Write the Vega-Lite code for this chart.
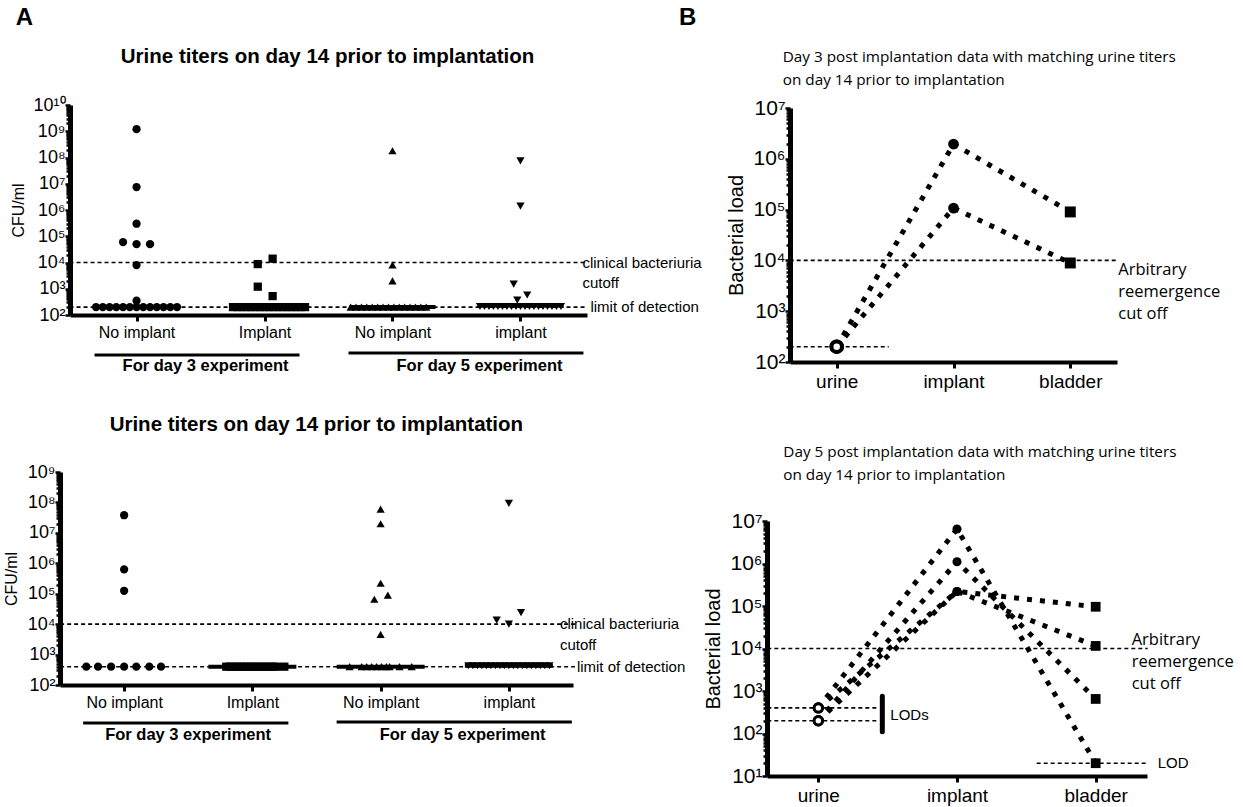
{
"$schema":"https://vega.github.io/schema/vega-lite/v6.json",
"width":1243,"height":807,"autosize":{"type":"none"},"padding":0,"background":"white",
"config":{"view":{"stroke":null},"axis":{"grid":false,"domainColor":"black","tickColor":"black","labelColor":"black","titleColor":"black","labelFont":"Liberation Sans","titleFont":"Liberation Sans","titleFontWeight":"normal","labelOverlap":false,"labelFlush":false},"text":{"color":"black","font":"Liberation Sans"}},
"datasets":{
"tl":[
{"g":"d3no","v":1.2e9,"j":0},{"g":"d3no","v":7.5e6,"j":0},{"g":"d3no","v":3e5,"j":0},{"g":"d3no","v":6e4,"j":-0.3},{"g":"d3no","v":5e4,"j":0},{"g":"d3no","v":5e4,"j":0.3},{"g":"d3no","v":8000,"j":0},{"g":"d3no","v":350,"j":0},
{"g":"d3no","v":200,"j":-0.9},{"g":"d3no","v":200,"j":-0.75},{"g":"d3no","v":200,"j":-0.6},{"g":"d3no","v":200,"j":-0.45},{"g":"d3no","v":200,"j":-0.3},{"g":"d3no","v":200,"j":-0.15},{"g":"d3no","v":200,"j":0},{"g":"d3no","v":200,"j":0.15},{"g":"d3no","v":200,"j":0.3},{"g":"d3no","v":200,"j":0.45},{"g":"d3no","v":200,"j":0.6},{"g":"d3no","v":200,"j":0.75},{"g":"d3no","v":200,"j":0.9},
{"g":"d3im","v":8700,"j":-0.15},{"g":"d3im","v":14000,"j":0.18},{"g":"d3im","v":1200,"j":-0.15},{"g":"d3im","v":525,"j":0.18},
{"g":"d3im","v":200,"j":-0.7},{"g":"d3im","v":200,"j":-0.6},{"g":"d3im","v":200,"j":-0.5},{"g":"d3im","v":200,"j":-0.4},{"g":"d3im","v":200,"j":-0.3},{"g":"d3im","v":200,"j":-0.2},{"g":"d3im","v":200,"j":-0.1},{"g":"d3im","v":200,"j":0},{"g":"d3im","v":200,"j":0.1},{"g":"d3im","v":200,"j":0.2},{"g":"d3im","v":200,"j":0.3},{"g":"d3im","v":200,"j":0.4},{"g":"d3im","v":200,"j":0.5},{"g":"d3im","v":200,"j":0.6},{"g":"d3im","v":200,"j":0.7},{"g":"d3im","v":200,"j":0.8},{"g":"d3im","v":200,"j":0.9},
{"g":"d5no","v":1.8e8,"j":0},{"g":"d5no","v":8000,"j":0},{"g":"d5no","v":2000,"j":0},
{"g":"d5no","v":200,"j":-0.93},{"g":"d5no","v":200,"j":-0.81},{"g":"d5no","v":200,"j":-0.69},{"g":"d5no","v":200,"j":-0.57},{"g":"d5no","v":200,"j":-0.45},{"g":"d5no","v":200,"j":-0.33},{"g":"d5no","v":200,"j":-0.21},{"g":"d5no","v":200,"j":-0.09},{"g":"d5no","v":200,"j":0.03},{"g":"d5no","v":200,"j":0.15},{"g":"d5no","v":200,"j":0.27},{"g":"d5no","v":200,"j":0.39},{"g":"d5no","v":200,"j":0.51},{"g":"d5no","v":200,"j":0.63},{"g":"d5no","v":200,"j":0.75},
{"g":"d5im","v":7.4e7,"j":0},{"g":"d5im","v":1.4e6,"j":0},{"g":"d5im","v":1500,"j":-0.15},{"g":"d5im","v":370,"j":-0.07},{"g":"d5im","v":580,"j":0.15},
{"g":"d5im","v":210,"j":-0.9},{"g":"d5im","v":210,"j":-0.8},{"g":"d5im","v":210,"j":-0.7},{"g":"d5im","v":210,"j":-0.6},{"g":"d5im","v":210,"j":-0.5},{"g":"d5im","v":210,"j":-0.4},{"g":"d5im","v":210,"j":-0.3},{"g":"d5im","v":210,"j":-0.2},{"g":"d5im","v":210,"j":-0.1},{"g":"d5im","v":210,"j":0},{"g":"d5im","v":210,"j":0.1},{"g":"d5im","v":210,"j":0.2},{"g":"d5im","v":210,"j":0.3},{"g":"d5im","v":210,"j":0.4},{"g":"d5im","v":210,"j":0.5},{"g":"d5im","v":210,"j":0.6},{"g":"d5im","v":210,"j":0.7},{"g":"d5im","v":210,"j":0.8},{"g":"d5im","v":210,"j":0.9}
],
"bl":[
{"g":"d3no","v":3.8e7,"j":0},{"g":"d3no","v":6.3e5,"j":0},{"g":"d3no","v":1.25e5,"j":0},
{"g":"d3no","v":400,"j":-0.84},{"g":"d3no","v":400,"j":-0.58},{"g":"d3no","v":400,"j":-0.29},{"g":"d3no","v":400,"j":0},{"g":"d3no","v":400,"j":0.27},{"g":"d3no","v":400,"j":0.56},{"g":"d3no","v":400,"j":0.82},
{"g":"d3im","v":400,"j":-0.58},{"g":"d3im","v":400,"j":-0.5},{"g":"d3im","v":400,"j":-0.42},{"g":"d3im","v":400,"j":-0.34},{"g":"d3im","v":400,"j":-0.26},{"g":"d3im","v":400,"j":-0.18},{"g":"d3im","v":400,"j":-0.1},{"g":"d3im","v":400,"j":-0.02},{"g":"d3im","v":400,"j":0.06},{"g":"d3im","v":400,"j":0.14},{"g":"d3im","v":400,"j":0.22},{"g":"d3im","v":400,"j":0.3},{"g":"d3im","v":400,"j":0.38},{"g":"d3im","v":400,"j":0.46},{"g":"d3im","v":400,"j":0.54},{"g":"d3im","v":400,"j":0.71},
{"g":"d5no","v":6e7,"j":0},{"g":"d5no","v":2e7,"j":0},{"g":"d5no","v":2.2e5,"j":0},{"g":"d5no","v":6.6e4,"j":-0.14},{"g":"d5no","v":9e4,"j":0.16},{"g":"d5no","v":4600,"j":0},
{"g":"d5no","v":400,"j":-0.69},{"g":"d5no","v":400,"j":-0.42},{"g":"d5no","v":400,"j":-0.31},{"g":"d5no","v":400,"j":-0.2},{"g":"d5no","v":400,"j":-0.09},{"g":"d5no","v":400,"j":0.02},{"g":"d5no","v":400,"j":0.13},{"g":"d5no","v":400,"j":0.2},{"g":"d5no","v":400,"j":0.42},{"g":"d5no","v":400,"j":0.69},
{"g":"d5im","v":9.3e7,"j":0},{"g":"d5im","v":13500,"j":-0.27},{"g":"d5im","v":10000,"j":0},{"g":"d5im","v":24000,"j":0.27},
{"g":"d5im","v":430,"j":-0.9},{"g":"d5im","v":430,"j":-0.8},{"g":"d5im","v":430,"j":-0.7},{"g":"d5im","v":430,"j":-0.6},{"g":"d5im","v":430,"j":-0.5},{"g":"d5im","v":430,"j":-0.4},{"g":"d5im","v":430,"j":-0.3},{"g":"d5im","v":430,"j":-0.2},{"g":"d5im","v":430,"j":-0.1},{"g":"d5im","v":430,"j":0},{"g":"d5im","v":430,"j":0.1},{"g":"d5im","v":430,"j":0.2},{"g":"d5im","v":430,"j":0.3},{"g":"d5im","v":430,"j":0.4},{"g":"d5im","v":430,"j":0.5},{"g":"d5im","v":430,"j":0.6},{"g":"d5im","v":430,"j":0.7},{"g":"d5im","v":430,"j":0.8},{"g":"d5im","v":430,"j":0.9}
],
"tlmed":[{"g":"d5no","v":200},{"g":"d5im","v":230}],
"blmed":[{"g":"d3im","v":400},{"g":"d5no","v":400},{"g":"d5im","v":430}],
"tr":[{"mouse":"m1","site":"urine","v":200},{"mouse":"m1","site":"implant","v":1950000},{"mouse":"m1","site":"bladder","v":90000},{"mouse":"m2","site":"urine","v":200},{"mouse":"m2","site":"implant","v":107000},{"mouse":"m2","site":"bladder","v":8900}],
"br":[{"mouse":"m1","site":"urine","v":400},{"mouse":"m1","site":"implant","v":6500000},{"mouse":"m1","site":"bladder","v":20},{"mouse":"m2","site":"urine","v":200},{"mouse":"m2","site":"implant","v":1100000},{"mouse":"m2","site":"bladder","v":650},{"mouse":"m3","site":"urine","v":400},{"mouse":"m3","site":"implant","v":220000},{"mouse":"m3","site":"bladder","v":11500},{"mouse":"m4","site":"urine","v":200},{"mouse":"m4","site":"implant","v":220000},{"mouse":"m4","site":"bladder","v":96000}]
},
"layer":[
 {"data":{"name":"tl"},"mark":{"type":"point","filled":true,"size":68,"opacity":1,"color":"black"},
  "encoding":{
   "x":{"field":"g","type":"nominal","scale":{"type":"point","domain":["d3no","d3im","d5no","d5im"],"range":[70,587],"padding":0.52},
        "axis":{"orient":"bottom","offset":-492,"title":null,"labelExpr":"datum.value == 'd3im' ? 'Implant' : datum.value == 'd5im' ? 'implant' : 'No implant'","labelFontSize":16,"labelAngle":0,"labelPadding":3,"domainWidth":4,"tickSize":6,"tickWidth":3}},
   "xOffset":{"field":"j","type":"quantitative","scale":{"domain":[-1,1],"range":[-45,45]}},
   "y":{"field":"v","type":"quantitative","scale":{"type":"log","domain":[100,1e10],"range":[315,105],"nice":false},
        "axis":{"orient":"left","offset":-70,"title":"CFU/ml","titleFontSize":16,"titlePadding":6,"labelFontSize":18,"values":[1e2,1e3,1e4,1e5,1e6,1e7,1e8,1e9,1e10],"labelPadding":0,"tickSize":5,"tickWidth":2.5,"domainWidth":5,
        "labelExpr":"'10' + ['⁰','¹','²','³','⁴','⁵','⁶','⁷','⁸','⁹','¹⁰'][round(log(datum.value)/LN10)]"}},
   "shape":{"field":"g","type":"nominal","scale":{"domain":["d3no","d3im","d5no","d5im"],"range":["circle","square","triangle-up","triangle-down"]},"legend":null}
  }},
 {"data":{"values":[{"v":10000},{"v":200}]},"mark":{"type":"rule","color":"black","strokeDash":[4,3],"strokeWidth":1.6,"xOffset":-67,"x2Offset":66},"encoding":{"x":{"datum":"d3no","type":"nominal","scale":{"type":"point","domain":["d3no","d3im","d5no","d5im"],"range":[70,587],"padding":0.52},"axis":null},"x2":{"datum":"d5im"},"y":{"field":"v","type":"quantitative","scale":{"type":"log","domain":[100,1e10],"range":[315,105],"nice":false},
   "axis":{"orient":"left","offset":-70,"title":null,"labels":false,"domain":false,"tickSize":4,"tickWidth":2.5,"values":[2e2,3e2,4e2,5e2,6e2,7e2,8e2,9e2,2e3,3e3,4e3,5e3,6e3,7e3,8e3,9e3,2e4,3e4,4e4,5e4,6e4,7e4,8e4,9e4,2e5,3e5,4e5,5e5,6e5,7e5,8e5,9e5,2e6,3e6,4e6,5e6,6e6,7e6,8e6,9e6,2e7,3e7,4e7,5e7,6e7,7e7,8e7,9e7,2e8,3e8,4e8,5e8,6e8,7e8,8e8,9e8,2e9,3e9,4e9,5e9,6e9,7e9,8e9,9e9]}}}},
 {"data":{"name":"tlmed"},"mark":{"type":"rule","color":"black","strokeWidth":4,"xOffset":-43,"x2Offset":43},"encoding":{"x":{"field":"g","type":"nominal","scale":{"type":"point","domain":["d3no","d3im","d5no","d5im"],"range":[70,587],"padding":0.52},"axis":null},"x2":{"field":"g"},"y":{"field":"v","type":"quantitative","scale":{"type":"log","domain":[100,1e10],"range":[315,105],"nice":false},"axis":null}}},
 {"data":{"values":[{"label":"A","x":"d3no","y":1e10}]},"mark":{"type":"text","fontSize":24,"fontWeight":"bold","dx":-112,"dy":-87},"encoding":{"x":{"field":"x","type":"nominal","scale":{"type":"point","domain":["d3no","d3im","d5no","d5im"],"range":[70,587],"padding":0.52},"axis":null},"y":{"field":"y","type":"quantitative","scale":{"type":"log","domain":[100,1e10],"range":[315,105],"nice":false},"axis":null},"text":{"field":"label"}}},
 {"data":{"values":[{"label":"Urine titers on day 14 prior to implantation","x":"d3im","y":1e10}]},"mark":{"type":"text","fontSize":20.5,"fontWeight":"bold","dx":63,"dy":-48},"encoding":{"x":{"field":"x","type":"nominal","scale":{"type":"point","domain":["d3no","d3im","d5no","d5im"],"range":[70,587],"padding":0.52},"axis":null},"y":{"field":"y","type":"quantitative","scale":{"type":"log","domain":[100,1e10],"range":[315,105],"nice":false},"axis":null},"text":{"field":"label"}}},
 {"data":{"values":[{"label":"clinical bacteriuria\ncutoff","x":"d5im","y":10000}]},"mark":{"type":"text","fontSize":15,"align":"left","baseline":"middle","lineBreak":"\n","lineHeight":20,"dx":62},"encoding":{"x":{"field":"x","type":"nominal","scale":{"type":"point","domain":["d3no","d3im","d5no","d5im"],"range":[70,587],"padding":0.52},"axis":null},"y":{"field":"y","type":"quantitative","scale":{"type":"log","domain":[100,1e10],"range":[315,105],"nice":false},"axis":null},"text":{"field":"label"}}},
 {"data":{"values":[{"label":"limit of detection","x":"d5im","y":200}]},"mark":{"type":"text","fontSize":15,"align":"left","baseline":"middle","dx":70},"encoding":{"x":{"field":"x","type":"nominal","scale":{"type":"point","domain":["d3no","d3im","d5no","d5im"],"range":[70,587],"padding":0.52},"axis":null},"y":{"field":"y","type":"quantitative","scale":{"type":"log","domain":[100,1e10],"range":[315,105],"nice":false},"axis":null},"text":{"field":"label"}}},
 {"data":{"values":[{"x":"d3no","x2":"d3im","y":100}]},"mark":{"type":"rule","color":"black","strokeWidth":3,"xOffset":-42,"x2Offset":35,"yOffset":40},"encoding":{"x":{"field":"x","type":"nominal","scale":{"type":"point","domain":["d3no","d3im","d5no","d5im"],"range":[70,587],"padding":0.52},"axis":null},"x2":{"field":"x2"},"y":{"field":"y","type":"quantitative","scale":{"type":"log","domain":[100,1e10],"range":[315,105],"nice":false},"axis":null}}},
 {"data":{"values":[{"x":"d5no","x2":"d5im","y":100}]},"mark":{"type":"rule","color":"black","strokeWidth":3,"xOffset":-44,"x2Offset":63,"yOffset":38},"encoding":{"x":{"field":"x","type":"nominal","scale":{"type":"point","domain":["d3no","d3im","d5no","d5im"],"range":[70,587],"padding":0.52},"axis":null},"x2":{"field":"x2"},"y":{"field":"y","type":"quantitative","scale":{"type":"log","domain":[100,1e10],"range":[315,105],"nice":false},"axis":null}}},
 {"data":{"values":[{"label":"For day 3 experiment","x":"d3no","y":100}]},"mark":{"type":"text","fontSize":16.5,"fontWeight":"bold","dx":69,"dy":51},"encoding":{"x":{"field":"x","type":"nominal","scale":{"type":"point","domain":["d3no","d3im","d5no","d5im"],"range":[70,587],"padding":0.52},"axis":null},"y":{"field":"y","type":"quantitative","scale":{"type":"log","domain":[100,1e10],"range":[315,105],"nice":false},"axis":null},"text":{"field":"label"}}},
 {"data":{"values":[{"label":"For day 5 experiment","x":"d5no","y":100}]},"mark":{"type":"text","fontSize":16.5,"fontWeight":"bold","dx":87,"dy":51},"encoding":{"x":{"field":"x","type":"nominal","scale":{"type":"point","domain":["d3no","d3im","d5no","d5im"],"range":[70,587],"padding":0.52},"axis":null},"y":{"field":"y","type":"quantitative","scale":{"type":"log","domain":[100,1e10],"range":[315,105],"nice":false},"axis":null},"text":{"field":"label"}}},

 {"data":{"name":"bl"},"mark":{"type":"point","filled":true,"size":68,"opacity":1,"color":"black"},
  "encoding":{
   "x":{"field":"g","type":"nominal","scale":{"type":"point","domain":["d3no","d3im","d5no","d5im"],"range":[60,573],"padding":0.5},
        "axis":{"orient":"bottom","offset":-122,"title":null,"labelExpr":"datum.value == 'd3im' ? 'Implant' : datum.value == 'd5im' ? 'implant' : 'No implant'","labelFontSize":16,"labelAngle":0,"labelPadding":3,"domainWidth":4,"tickSize":6,"tickWidth":3}},
   "xOffset":{"field":"j","type":"quantitative","scale":{"domain":[-1,1],"range":[-45,45]}},
   "y":{"field":"v","type":"quantitative","scale":{"type":"log","domain":[100,1e9],"range":[685,472],"nice":false},
        "axis":{"orient":"left","offset":-60,"title":"CFU/ml","titleFontSize":16,"titlePadding":8,"labelFontSize":18,"values":[1e2,1e3,1e4,1e5,1e6,1e7,1e8,1e9],"labelPadding":0,"tickSize":5,"tickWidth":2.5,"domainWidth":5,
        "labelExpr":"'10' + ['⁰','¹','²','³','⁴','⁵','⁶','⁷','⁸','⁹','¹⁰'][round(log(datum.value)/LN10)]"}},
   "shape":{"field":"g","type":"nominal","scale":{"domain":["d3no","d3im","d5no","d5im"],"range":["circle","square","triangle-up","triangle-down"]},"legend":null}
  }},
 {"data":{"values":[{"v":10000},{"v":400}]},"mark":{"type":"rule","color":"black","strokeDash":[4,3],"strokeWidth":1.6,"xOffset":-64,"x2Offset":66},"encoding":{"x":{"datum":"d3no","type":"nominal","scale":{"type":"point","domain":["d3no","d3im","d5no","d5im"],"range":[60,573],"padding":0.5},"axis":null},"x2":{"datum":"d5im"},"y":{"field":"v","type":"quantitative","scale":{"type":"log","domain":[100,1e9],"range":[685,472],"nice":false},
   "axis":{"orient":"left","offset":-60,"title":null,"labels":false,"domain":false,"tickSize":4,"tickWidth":2.5,"values":[2e2,3e2,4e2,5e2,6e2,7e2,8e2,9e2,2e3,3e3,4e3,5e3,6e3,7e3,8e3,9e3,2e4,3e4,4e4,5e4,6e4,7e4,8e4,9e4,2e5,3e5,4e5,5e5,6e5,7e5,8e5,9e5,2e6,3e6,4e6,5e6,6e6,7e6,8e6,9e6,2e7,3e7,4e7,5e7,6e7,7e7,8e7,9e7,2e8,3e8,4e8,5e8,6e8,7e8,8e8,9e8]}}}},
 {"data":{"name":"blmed"},"mark":{"type":"rule","color":"black","strokeWidth":4,"xOffset":-44,"x2Offset":44},"encoding":{"x":{"field":"g","type":"nominal","scale":{"type":"point","domain":["d3no","d3im","d5no","d5im"],"range":[60,573],"padding":0.5},"axis":null},"x2":{"field":"g"},"y":{"field":"v","type":"quantitative","scale":{"type":"log","domain":[100,1e9],"range":[685,472],"nice":false},"axis":null}}},
 {"data":{"values":[{"label":"Urine titers on day 14 prior to implantation","x":"d3im","y":1e9}]},"mark":{"type":"text","fontSize":20.5,"fontWeight":"bold","dx":64,"dy":-47},"encoding":{"x":{"field":"x","type":"nominal","scale":{"type":"point","domain":["d3no","d3im","d5no","d5im"],"range":[60,573],"padding":0.5},"axis":null},"y":{"field":"y","type":"quantitative","scale":{"type":"log","domain":[100,1e9],"range":[685,472],"nice":false},"axis":null},"text":{"field":"label"}}},
 {"data":{"values":[{"label":"clinical bacteriuria\ncutoff","x":"d5im","y":10000}]},"mark":{"type":"text","fontSize":15,"align":"left","baseline":"middle","lineBreak":"\n","lineHeight":21,"dx":51},"encoding":{"x":{"field":"x","type":"nominal","scale":{"type":"point","domain":["d3no","d3im","d5no","d5im"],"range":[60,573],"padding":0.5},"axis":null},"y":{"field":"y","type":"quantitative","scale":{"type":"log","domain":[100,1e9],"range":[685,472],"nice":false},"axis":null},"text":{"field":"label"}}},
 {"data":{"values":[{"label":"limit of detection","x":"d5im","y":400}]},"mark":{"type":"text","fontSize":15,"align":"left","baseline":"middle","dx":68},"encoding":{"x":{"field":"x","type":"nominal","scale":{"type":"point","domain":["d3no","d3im","d5no","d5im"],"range":[60,573],"padding":0.5},"axis":null},"y":{"field":"y","type":"quantitative","scale":{"type":"log","domain":[100,1e9],"range":[685,472],"nice":false},"axis":null},"text":{"field":"label"}}},
 {"data":{"values":[{"x":"d3no","x2":"d3im","y":100}]},"mark":{"type":"rule","color":"black","strokeWidth":3,"xOffset":-41,"x2Offset":36,"yOffset":38},"encoding":{"x":{"field":"x","type":"nominal","scale":{"type":"point","domain":["d3no","d3im","d5no","d5im"],"range":[60,573],"padding":0.5},"axis":null},"x2":{"field":"x2"},"y":{"field":"y","type":"quantitative","scale":{"type":"log","domain":[100,1e9],"range":[685,472],"nice":false},"axis":null}}},
 {"data":{"values":[{"x":"d5no","x2":"d5im","y":100}]},"mark":{"type":"rule","color":"black","strokeWidth":3,"xOffset":-44,"x2Offset":63,"yOffset":37},"encoding":{"x":{"field":"x","type":"nominal","scale":{"type":"point","domain":["d3no","d3im","d5no","d5im"],"range":[60,573],"padding":0.5},"axis":null},"x2":{"field":"x2"},"y":{"field":"y","type":"quantitative","scale":{"type":"log","domain":[100,1e9],"range":[685,472],"nice":false},"axis":null}}},
 {"data":{"values":[{"label":"For day 3 experiment","x":"d3no","y":100}]},"mark":{"type":"text","fontSize":16.5,"fontWeight":"bold","dx":64,"dy":50},"encoding":{"x":{"field":"x","type":"nominal","scale":{"type":"point","domain":["d3no","d3im","d5no","d5im"],"range":[60,573],"padding":0.5},"axis":null},"y":{"field":"y","type":"quantitative","scale":{"type":"log","domain":[100,1e9],"range":[685,472],"nice":false},"axis":null},"text":{"field":"label"}}},
 {"data":{"values":[{"label":"For day 5 experiment","x":"d5no","y":100}]},"mark":{"type":"text","fontSize":16.5,"fontWeight":"bold","dx":82,"dy":50},"encoding":{"x":{"field":"x","type":"nominal","scale":{"type":"point","domain":["d3no","d3im","d5no","d5im"],"range":[60,573],"padding":0.5},"axis":null},"y":{"field":"y","type":"quantitative","scale":{"type":"log","domain":[100,1e9],"range":[685,472],"nice":false},"axis":null},"text":{"field":"label"}}},

 {"data":{"name":"tr"},"mark":{"type":"line","color":"black","strokeWidth":5,"strokeDash":[5,8]},
  "encoding":{
   "x":{"field":"site","type":"nominal","scale":{"type":"point","domain":["urine","implant","bladder"],"range":[790,1117],"padding":0.4},
        "axis":{"orient":"bottom","offset":-445,"title":null,"labelFontSize":19,"labelAngle":0,"labelPadding":4,"domainWidth":4,"tickSize":6,"tickWidth":3}},
   "y":{"field":"v","type":"quantitative","scale":{"type":"log","domain":[100,1e7],"range":[362,108],"nice":false},
        "axis":{"orient":"left","offset":-790,"title":"Bacterial load","titleFontSize":20,"titlePadding":6,"labelFontSize":21,"values":[1e2,1e3,1e4,1e5,1e6,1e7],"labelPadding":0,"tickSize":5,"tickWidth":2.5,"domainWidth":5,
        "labelExpr":"'10' + ['⁰','¹','²','³','⁴','⁵','⁶','⁷','⁸','⁹','¹⁰'][round(log(datum.value)/LN10)]"}},
   "detail":{"field":"mouse","type":"nominal"}
  }},
 {"data":{"values":[{"v":10000,"x":"urine","x2":"bladder"}]},"mark":{"type":"rule","color":"black","strokeDash":[4,3],"strokeWidth":1.6,"xOffset":-47,"x2Offset":47},"encoding":{"x":{"field":"x","type":"nominal","scale":{"type":"point","domain":["urine","implant","bladder"],"range":[790,1117],"padding":0.4},"axis":null},"x2":{"field":"x2"},"y":{"field":"v","type":"quantitative","scale":{"type":"log","domain":[100,1e7],"range":[362,108],"nice":false},
   "axis":{"orient":"left","offset":-790,"title":null,"labels":false,"domain":false,"tickSize":4,"tickWidth":2.5,"values":[2e2,3e2,4e2,5e2,6e2,7e2,8e2,9e2,2e3,3e3,4e3,5e3,6e3,7e3,8e3,9e3,2e4,3e4,4e4,5e4,6e4,7e4,8e4,9e4,2e5,3e5,4e5,5e5,6e5,7e5,8e5,9e5,2e6,3e6,4e6,5e6,6e6,7e6,8e6,9e6]}}}},
 {"data":{"values":[{"v":200,"x":"urine"}]},"mark":{"type":"rule","color":"black","strokeDash":[4,3],"strokeWidth":1.6,"xOffset":-47,"x2Offset":52},"encoding":{"x":{"field":"x","type":"nominal","scale":{"type":"point","domain":["urine","implant","bladder"],"range":[790,1117],"padding":0.4},"axis":null},"x2":{"field":"x"},"y":{"field":"v","type":"quantitative","scale":{"type":"log","domain":[100,1e7],"range":[362,108],"nice":false},"axis":null}}},
 {"data":{"name":"tr"},"mark":{"type":"point","filled":true,"color":"black","opacity":1,"strokeWidth":4},"encoding":{"x":{"field":"site","type":"nominal","scale":{"type":"point","domain":["urine","implant","bladder"],"range":[790,1117],"padding":0.4},"axis":null},"y":{"field":"v","type":"quantitative","scale":{"type":"log","domain":[100,1e7],"range":[362,108],"nice":false},"axis":null},
   "shape":{"field":"site","type":"nominal","scale":{"domain":["urine","implant","bladder"],"range":["circle","circle","square"]},"legend":null},
   "fill":{"field":"site","type":"nominal","scale":{"domain":["urine","implant","bladder"],"range":["white","black","black"]},"legend":null},
   "stroke":{"field":"site","type":"nominal","scale":{"domain":["urine","implant","bladder"],"range":["black","transparent","transparent"]},"legend":null},
   "size":{"field":"site","type":"nominal","scale":{"domain":["urine","implant","bladder"],"range":[110,120,105]},"legend":null}}},
 {"data":{"values":[{"label":"B","x":"urine","y":1e7}]},"mark":{"type":"text","fontSize":24,"fontWeight":"bold","dx":-149,"dy":-90},"encoding":{"x":{"field":"x","type":"nominal","scale":{"type":"point","domain":["urine","implant","bladder"],"range":[790,1117],"padding":0.4},"axis":null},"y":{"field":"y","type":"quantitative","scale":{"type":"log","domain":[100,1e7],"range":[362,108],"nice":false},"axis":null},"text":{"field":"label"}}},
 {"data":{"values":[{"label":"Day 3 post implantation data with matching urine titers\non day 14 prior to implantation","x":"urine","y":1e7}]},"mark":{"type":"text","font":"Open Sans","fontSize":15.3,"align":"left","baseline":"middle","lineBreak":"\n","lineHeight":23,"dx":-54,"dy":-51},"encoding":{"x":{"field":"x","type":"nominal","scale":{"type":"point","domain":["urine","implant","bladder"],"range":[790,1117],"padding":0.4},"axis":null},"y":{"field":"y","type":"quantitative","scale":{"type":"log","domain":[100,1e7],"range":[362,108],"nice":false},"axis":null},"text":{"field":"label"}}},
 {"data":{"values":[{"label":"Arbitrary\nreemergence\n cut off","x":"bladder","y":10000}]},"mark":{"type":"text","font":"Open Sans","fontSize":16.5,"align":"left","baseline":"middle","lineBreak":"\n","lineHeight":22,"dx":48,"dy":10},"encoding":{"x":{"field":"x","type":"nominal","scale":{"type":"point","domain":["urine","implant","bladder"],"range":[790,1117],"padding":0.4},"axis":null},"y":{"field":"y","type":"quantitative","scale":{"type":"log","domain":[100,1e7],"range":[362,108],"nice":false},"axis":null},"text":{"field":"label"}}},

 {"data":{"name":"br"},"mark":{"type":"line","color":"black","strokeWidth":5,"strokeDash":[5,8]},
  "encoding":{
   "x":{"field":"site","type":"nominal","scale":{"type":"point","domain":["urine","implant","bladder"],"range":[767,1147],"padding":0.37},
        "axis":{"orient":"bottom","offset":-31,"title":null,"labelFontSize":19,"labelAngle":0,"labelPadding":4,"domainWidth":4,"tickSize":6,"tickWidth":3}},
   "y":{"field":"v","type":"quantitative","scale":{"type":"log","domain":[10,1e7],"range":[776,521],"nice":false},
        "axis":{"orient":"left","offset":-767,"title":"Bacterial load","titleFontSize":20,"titlePadding":6,"labelFontSize":21,"values":[1e1,1e2,1e3,1e4,1e5,1e6,1e7],"labelPadding":0,"tickSize":5,"tickWidth":2.5,"domainWidth":5,
        "labelExpr":"'10' + ['⁰','¹','²','³','⁴','⁵','⁶','⁷','⁸','⁹','¹⁰'][round(log(datum.value)/LN10)]"}},
   "detail":{"field":"mouse","type":"nominal"}
  }},
 {"data":{"values":[{"v":10000,"x":"urine","x2":"bladder"}]},"mark":{"type":"rule","color":"black","strokeDash":[4,3],"strokeWidth":1.6,"xOffset":-51,"x2Offset":52},"encoding":{"x":{"field":"x","type":"nominal","scale":{"type":"point","domain":["urine","implant","bladder"],"range":[767,1147],"padding":0.37},"axis":null},"x2":{"field":"x2"},"y":{"field":"v","type":"quantitative","scale":{"type":"log","domain":[10,1e7],"range":[776,521],"nice":false},
   "axis":{"orient":"left","offset":-767,"title":null,"labels":false,"domain":false,"tickSize":4,"tickWidth":2.5,"values":[2e1,3e1,4e1,5e1,6e1,7e1,8e1,9e1,2e2,3e2,4e2,5e2,6e2,7e2,8e2,9e2,2e3,3e3,4e3,5e3,6e3,7e3,8e3,9e3,2e4,3e4,4e4,5e4,6e4,7e4,8e4,9e4,2e5,3e5,4e5,5e5,6e5,7e5,8e5,9e5,2e6,3e6,4e6,5e6,6e6,7e6,8e6,9e6]}}}},
 {"data":{"values":[{"v":400,"x":"urine"},{"v":200,"x":"urine"}]},"mark":{"type":"rule","color":"black","strokeDash":[4,3],"strokeWidth":1.6,"xOffset":-51,"x2Offset":59},"encoding":{"x":{"field":"x","type":"nominal","scale":{"type":"point","domain":["urine","implant","bladder"],"range":[767,1147],"padding":0.37},"axis":null},"x2":{"field":"x"},"y":{"field":"v","type":"quantitative","scale":{"type":"log","domain":[10,1e7],"range":[776,521],"nice":false},"axis":null}}},
 {"data":{"values":[{"v":20,"x":"bladder"}]},"mark":{"type":"rule","color":"black","strokeDash":[4,3],"strokeWidth":1.6,"xOffset":-59,"x2Offset":51},"encoding":{"x":{"field":"x","type":"nominal","scale":{"type":"point","domain":["urine","implant","bladder"],"range":[767,1147],"padding":0.37},"axis":null},"x2":{"field":"x"},"y":{"field":"v","type":"quantitative","scale":{"type":"log","domain":[10,1e7],"range":[776,521],"nice":false},"axis":null}}},
 {"data":{"values":[{"lo":110,"hi":750,"x":"urine"}]},"mark":{"type":"rule","color":"black","strokeWidth":5,"strokeCap":"round","xOffset":64},"encoding":{"x":{"field":"x","type":"nominal","scale":{"type":"point","domain":["urine","implant","bladder"],"range":[767,1147],"padding":0.37},"axis":null},"y":{"field":"lo","type":"quantitative","scale":{"type":"log","domain":[10,1e7],"range":[776,521],"nice":false},"axis":null},"y2":{"field":"hi"}}},
 {"data":{"name":"br"},"mark":{"type":"point","filled":true,"color":"black","opacity":1,"strokeWidth":3},"encoding":{"x":{"field":"site","type":"nominal","scale":{"type":"point","domain":["urine","implant","bladder"],"range":[767,1147],"padding":0.37},"axis":null},"y":{"field":"v","type":"quantitative","scale":{"type":"log","domain":[10,1e7],"range":[776,521],"nice":false},"axis":null},
   "shape":{"field":"site","type":"nominal","scale":{"domain":["urine","implant","bladder"],"range":["circle","circle","square"]},"legend":null},
   "fill":{"field":"site","type":"nominal","scale":{"domain":["urine","implant","bladder"],"range":["white","black","black"]},"legend":null},
   "stroke":{"field":"site","type":"nominal","scale":{"domain":["urine","implant","bladder"],"range":["black","transparent","transparent"]},"legend":null},
   "size":{"field":"site","type":"nominal","scale":{"domain":["urine","implant","bladder"],"range":[70,95,100]},"legend":null}}},
 {"data":{"values":[{"label":"Day 5 post implantation data with matching urine titers\non day 14 prior to implantation","x":"urine","y":1e7}]},"mark":{"type":"text","font":"Open Sans","fontSize":15.3,"align":"left","baseline":"middle","lineBreak":"\n","lineHeight":23,"dx":-35,"dy":-69},"encoding":{"x":{"field":"x","type":"nominal","scale":{"type":"point","domain":["urine","implant","bladder"],"range":[767,1147],"padding":0.37},"axis":null},"y":{"field":"y","type":"quantitative","scale":{"type":"log","domain":[10,1e7],"range":[776,521],"nice":false},"axis":null},"text":{"field":"label"}}},
 {"data":{"values":[{"label":"Arbitrary\nreemergence\ncut off","x":"bladder","y":10000}]},"mark":{"type":"text","font":"Open Sans","fontSize":16.5,"align":"left","baseline":"middle","lineBreak":"\n","lineHeight":22,"dx":36,"dy":-9},"encoding":{"x":{"field":"x","type":"nominal","scale":{"type":"point","domain":["urine","implant","bladder"],"range":[767,1147],"padding":0.37},"axis":null},"y":{"field":"y","type":"quantitative","scale":{"type":"log","domain":[10,1e7],"range":[776,521],"nice":false},"axis":null},"text":{"field":"label"}}},
 {"data":{"values":[{"label":"LODs","x":"urine","y":275}]},"mark":{"type":"text","fontSize":15,"align":"left","baseline":"middle","dx":72},"encoding":{"x":{"field":"x","type":"nominal","scale":{"type":"point","domain":["urine","implant","bladder"],"range":[767,1147],"padding":0.37},"axis":null},"y":{"field":"y","type":"quantitative","scale":{"type":"log","domain":[10,1e7],"range":[776,521],"nice":false},"axis":null},"text":{"field":"label"}}},
 {"data":{"values":[{"label":"LOD","x":"bladder","y":20}]},"mark":{"type":"text","fontSize":15,"align":"left","baseline":"middle","dx":62},"encoding":{"x":{"field":"x","type":"nominal","scale":{"type":"point","domain":["urine","implant","bladder"],"range":[767,1147],"padding":0.37},"axis":null},"y":{"field":"y","type":"quantitative","scale":{"type":"log","domain":[10,1e7],"range":[776,521],"nice":false},"axis":null},"text":{"field":"label"}}}
],
"resolve":{"scale":{"x":"independent","y":"independent","xOffset":"independent","shape":"independent","fill":"independent","stroke":"independent","size":"independent"},"axis":{"x":"independent","y":"independent"}}
}
